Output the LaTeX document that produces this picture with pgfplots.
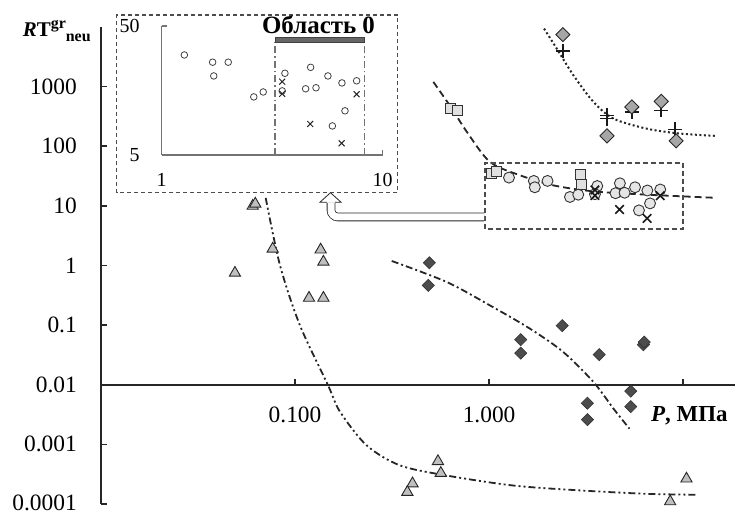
\documentclass[border=0pt]{standalone}
\usepackage{fontspec}
\setmainfont{Liberation Serif}
\usepackage{pgfplots}
\pgfplotsset{compat=1.18}
\begin{document}
\begin{tikzpicture}[x=1bp,y=1bp]
% ---------------- main axis ----------------
\begin{axis}[
  at={(101bp,10bp)}, anchor=south west,
  scale only axis, width=634bp, height=477bp,
  xmode=log, ymode=log,
  xmin=0.01, xmax=18.5, ymin=1e-4, ymax=1e4,
  axis x line*=bottom, axis y line*=left,
  axis x line shift=-119.2bp,
  axis line style={line width=1.6bp, black!85},
  tick align=inside, major tick length=6bp,
  tick style={line width=1.6bp, black!85},
  xminorticks=false, yminorticks=false,
  xtick={0.1,1,10}, xticklabels={0.100,1.000,{}},
  ytick={1e-4,1e-3,1e-2,1e-1,1,10,100,1000},
  yticklabels={\raisebox{3bp}{0.0001},0.001,0.01,0.1,1,10,100,1000},
  ticklabel style={font=\fontsize{23.5}{24}\selectfont, inner sep=0pt},
  yticklabel style={anchor=east, xshift=-24bp},
  xticklabel style={anchor=north, yshift=-22bp},
  clip=false,
]
% trend: triangles (dash-dot-dot)
\addplot[smooth, line width=1.8bp, black!85, dash pattern=on 7bp off 3bp on 2bp off 3bp on 2bp off 3bp]
 coordinates {(0.0706,13.6) (0.0837,1.0) (0.106,0.099) (0.1475,0.01) (0.1706,0.00352) (0.234,0.00096) (0.348,0.000443) (0.605,0.0003) (1.334,0.000204) (2.94,0.000169) (6.50,0.000148) (11.8,0.000143)};
% trend: dark diamonds (dash-dot)
\addplot[smooth, line width=1.8bp, black!85, dash pattern=on 7bp off 3bp on 2bp off 3bp]
 coordinates {(0.315,1.19) (0.605,0.528) (1.01,0.214) (1.625,0.087) (2.41,0.0354) (3.45,0.0111) (4.38,0.00395) (5.29,0.00183)};
% trend: circles (dashed)
\addplot[smooth, line width=1.8bp, black!85, dash pattern=on 7bp off 4bp]
 coordinates {(0.516,1200) (0.643,428) (0.768,174) (1.01,54.6) (1.445,32.5) (2.14,22.1) (3.45,17.5) (6.50,15.4) (14.3,13.7)};
% trend: light diamonds (dotted)
\addplot[smooth, line width=2bp, black!85, dash pattern=on 2bp off 2.5bp]
 coordinates {(1.92,9400) (2.23,4350) (2.72,1550) (3.45,553) (4.38,290) (6.50,197) (9.66,163) (14.9,149)};
% triangles
\addplot[only marks, mark=triangle*, mark size=6.5bp, mark options={fill=black!25, draw=black!85, line width=0.9bp}]
 coordinates {(0.0605,9.96) (0.0624,10.8) (0.049,0.75) (0.0767,1.9) (0.1355,1.84) (0.140,1.15) (0.118,0.285) (0.140,0.285) (0.403,0.00022) (0.379,0.000158) (0.545,0.00052) (0.564,0.00033) (10.4,0.000265) (8.57,0.00011)};
% dark diamonds
\addplot[only marks, mark=square*, mark size=4.3bp, mark options={rotate=45, fill=black!70, draw=black!80, line width=0.6bp}]
 coordinates {(0.492,1.11) (0.486,0.464) (1.455,0.057) (1.455,0.034) (2.38,0.098) (3.69,0.032) (6.24,0.047) (6.30,0.052) (5.37,0.0078) (5.37,0.0043) (3.21,0.0049) (3.21,0.0026)};
% squares
\addplot[only marks, mark=square*, mark size=5bp, mark options={fill=black!12, draw=black!80, line width=0.9bp}]
 coordinates {(0.629,428) (0.687,391) (1.03,34.7) (1.096,37.1) (2.94,33.4) (2.98,23)};
% circles
\addplot[only marks, mark=*, mark size=5.5bp, mark options={fill=black!10, draw=black!80, line width=0.9bp}]
 coordinates {(1.266,29.8) (1.70,26.2) (1.72,20.5) (2.0,26.2) (2.61,14.1) (2.88,15.4) (3.61,21.5) (3.51,15.7) (4.72,23.9) (4.48,16.3) (4.99,16.6) (5.65,20.5) (6.54,18.1) (7.62,18.8) (6.75,11.0) (5.92,8.4)};
% crosses
\addplot[only marks, mark=x, mark size=6bp, mark options={draw=black!90, line width=1.6bp}]
 coordinates {(3.51,18.5) (3.51,14.9) (7.62,14.8) (4.70,8.7) (6.52,6.16)};
% plus
\addplot[only marks, mark=+, mark size=7bp, mark options={draw=black!90, line width=1.6bp}]
 coordinates {(2.40,3920) (4.05,330) (4.05,290) (5.44,376) (7.71,400) (9.10,192)};
% light diamonds
\addplot[only marks, mark=square*, mark size=5bp, mark options={rotate=45, fill=black!35, draw=black!85, line width=0.9bp}]
 coordinates {(2.40,7450) (5.44,456) (7.71,566) (4.05,149) (9.20,123)};
\end{axis}
% ---------------- inset axis ----------------
\begin{axis}[
  at={(161.7bp,359bp)}, anchor=south west,
  scale only axis, width=221bp, height=129bp,
  xmode=log, ymode=log, xmin=1, xmax=10, ymin=5, ymax=50,
  axis x line*=bottom, axis y line*=left,
  axis line style={line width=1.2bp, black!55},
  tick align=inside, major tick length=5bp,
  tick style={line width=1.2bp, black!55},
  xminorticks=false, yminorticks=false,
  xtick={1,10}, xticklabels={1,10}, ytick={5,50}, yticklabels={5,50},
  ticklabel style={font=\fontsize{20}{20}\selectfont, inner sep=0pt},
  yticklabel style={anchor=east, xshift=-22bp},
  xticklabel style={anchor=north, yshift=-18bp},
  clip=false,
]
\addplot[only marks, mark=o, mark size=3.3bp, mark options={draw=black!75, line width=0.8bp}]
 coordinates {(1.266,29.8) (1.70,26.2) (1.72,20.5) (2.0,26.2) (2.61,14.1) (2.88,15.4) (3.61,21.5) (3.51,15.7) (4.72,23.9) (4.48,16.3) (4.99,16.6) (5.65,20.5) (6.54,18.1) (7.62,18.8) (6.75,11.0) (5.92,8.4)};
\addplot[only marks, mark=x, mark size=4.2bp, mark options={draw=black!85, line width=1bp}]
 coordinates {(3.51,18.5) (3.51,14.9) (7.62,14.8) (4.70,8.7) (6.52,6.16)};
\end{axis}
% ---------------- annotations ----------------
% inset frame
\draw[black!70, line width=1.2bp, dash pattern=on 4bp off 3bp] (116.7,321.3) rectangle (397.7,499);
% region 0 lines and bar
\draw[black!55, line width=1.5bp, dash pattern=on 7bp off 3bp on 1.5bp off 3bp] (275,359) -- (275,471.5);
\draw[black!55, line width=1.5bp, dash pattern=on 7bp off 3bp on 1.5bp off 3bp] (364.3,359) -- (364.3,471.5);
\draw[fill=black!60, draw=black!75, line width=0.8bp] (275,471.5) rectangle (364.3,477);
\node[anchor=base, inner sep=0pt] at (318.5,480.5) {\fontsize{25}{25}\selectfont\textbf{Область 0}};
% main dashed box
\draw[black!70, line width=1.2bp, dash pattern=on 5bp off 3bp] (485,285) rectangle (683,351);
% hollow arrow
\draw[black!85, line width=0.8bp, double=white, double distance=7bp, rounded corners=7bp] (484,297) -- (331,297) -- (331,311);
\fill[white] (320,311.8) -- (330.5,321.3) -- (341,311.8) -- cycle;
\draw[black!85, line width=0.8bp] (326.8,311.8) -- (320,311.8) -- (330.5,321.3) -- (341,311.8) -- (335.2,311.8);
% axis labels
\node[anchor=base west, inner sep=0pt] at (22.7,477.3) {\fontsize{21}{21}\selectfont\textbf{\textit{R}T}\raisebox{8.5bp}{\fontsize{16}{16}\selectfont\textbf{gr}}\raisebox{-5bp}{\fontsize{16}{16}\selectfont\textbf{neu}}};
\node[anchor=base west, inner sep=0pt] at (651,92.3) {\fontsize{23}{23}\selectfont\textbf{\textit{P}, МПа}};
\pgfresetboundingbox
\path[use as bounding box] (0,0) rectangle (737,514);
\end{tikzpicture}
\end{document}
